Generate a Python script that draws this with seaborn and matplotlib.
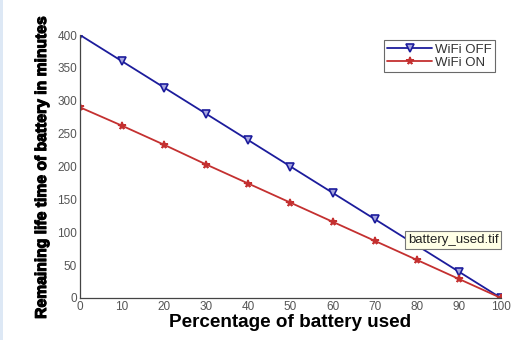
import matplotlib
matplotlib.use("Agg")
import matplotlib.pyplot as plt
import matplotlib.patheffects as pe
import seaborn as sns
import pandas as pd
from matplotlib.patches import Rectangle

# Battery drain data
battery_used = [0, 10, 20, 30, 40, 50, 60, 70, 80, 90, 100]
wifi_off = [400, 360, 320, 280, 240, 200, 160, 120, 80, 40, 0]
wifi_on = [290, 262, 233, 203, 174, 145, 116, 87, 58, 29, 0]
series_names = ["WiFi OFF", "WiFi ON"]
x_ticks = [0, 10, 20, 30, 40, 50, 60, 70, 80, 90, 100]
y_ticks = [0, 50, 100, 150, 200, 250, 300, 350, 400]

df = pd.DataFrame({
    "used": battery_used * 2,
    "remaining": wifi_off + wifi_on,
    "mode": [series_names[0]] * len(battery_used) + [series_names[1]] * len(battery_used),
})

sns.set_style("white")
plt.rcParams["font.family"] = ["Liberation Sans", "DejaVu Sans"]

fig = plt.figure(figsize=(5.19, 3.40), dpi=100)
fig.patch.set_facecolor("white")
# light blue strip on the left edge
fig.patches.append(Rectangle((0, 0), 3 / 519, 1, transform=fig.transFigure,
                             facecolor="#dde8f5", edgecolor="none", zorder=0))

ax = fig.add_axes([80 / 519, 1 - 298 / 340, 421 / 519, 263 / 340])

off_color = "#1c1c9c"
on_color = "#c43030"
palette = {series_names[0]: off_color, series_names[1]: on_color}
sns.lineplot(data=df, x="used", y="remaining", hue="mode", style="mode",
             palette=palette, markers={series_names[0]: "v", series_names[1]: "*"},
             dashes=False, ax=ax, linewidth=1.3, markersize=5.5,
             markeredgewidth=1.2, legend=True)

# lighter fill inside the triangles, solid stars
for ln in ax.get_lines():
    c = ln.get_color()
    if c == off_color:
        ln.set_markerfacecolor("#a8a8e0")
        ln.set_markeredgecolor(off_color)
    elif c == on_color:
        ln.set_markerfacecolor(on_color)
        ln.set_markeredgecolor(on_color)

ax.set_xlim(0, 100)
ax.set_ylim(0, 400)
ax.set_xticks(x_ticks)
ax.set_yticks(y_ticks)
ax.tick_params(direction="in", length=4, width=0.8, colors="#555555",
               labelsize=8.5, labelcolor="#555555", pad=2)
for side in ["top", "right"]:
    ax.spines[side].set_visible(False)
for side in ["left", "bottom"]:
    ax.spines[side].set_color("#444444")
    ax.spines[side].set_linewidth(0.9)

ax.set_xlabel("Percentage of battery used", fontsize=13.6, fontweight="bold",
              color="black", labelpad=1)
ylab = ax.set_ylabel("Remaining life time of battery in minutes", fontsize=11.3,
                     fontweight="bold", color="black", labelpad=6)
ylab.set_path_effects([pe.withStroke(linewidth=0.8, foreground="black")])

handles, labels = ax.get_legend_handles_labels()
for h in handles:
    if h.get_color() == off_color:
        h.set_markerfacecolor("#a8a8e0")
leg = ax.legend(handles, labels, loc="upper left",
                bbox_to_anchor=(384 / 519, 1 - 40 / 340), bbox_transform=fig.transFigure,
                frameon=True, fancybox=False, fontsize=9.5, handlelength=3.4,
                handletextpad=0.2, borderpad=0.25, labelspacing=0.1, borderaxespad=0)
leg.get_frame().set_edgecolor("#444444")
leg.get_frame().set_linewidth(0.8)
for t in leg.get_texts():
    t.set_color("#333333")

# file name tooltip
fig.text(453 / 519, 1 - 240 / 340, "battery_used.tif", ha="center", va="center",
         fontsize=9.5, color="#222222",
         bbox=dict(boxstyle="square,pad=0.2", facecolor="#ffffe6", edgecolor="#777777",
                   linewidth=0.8))

fig.savefig("out.png", dpi=100)
